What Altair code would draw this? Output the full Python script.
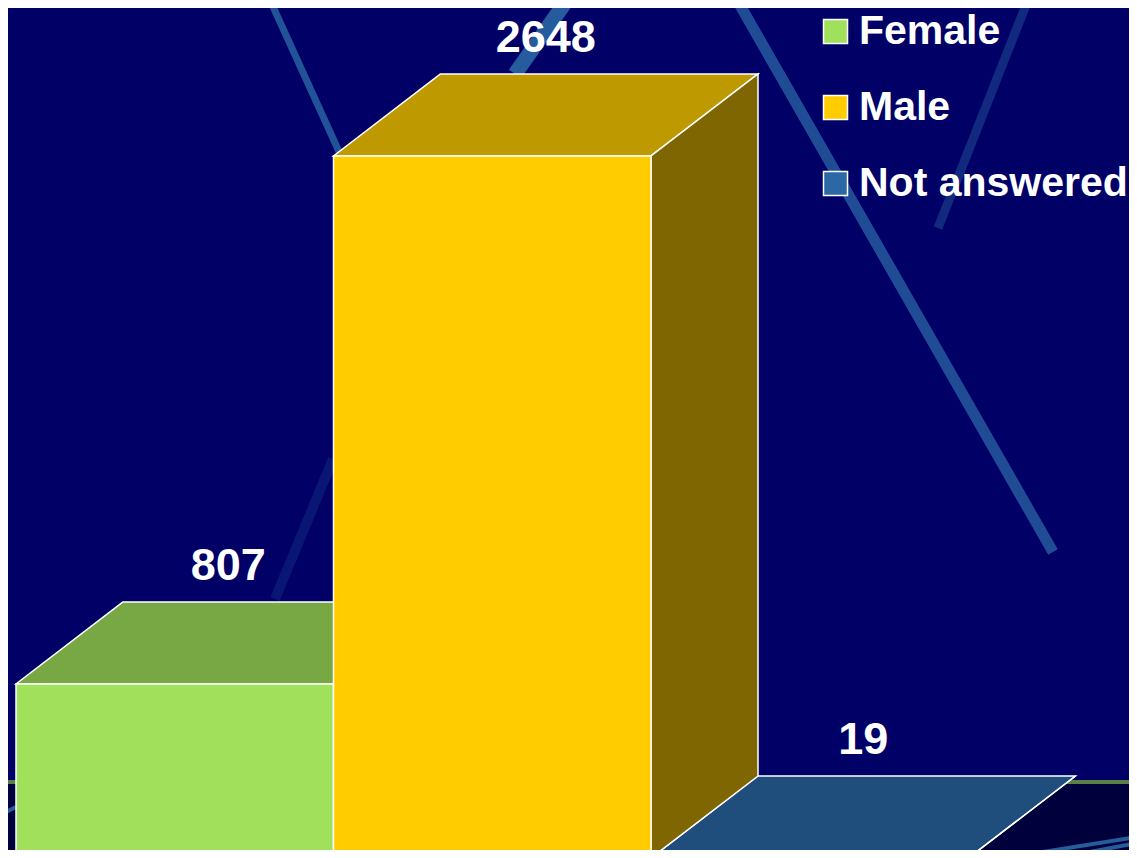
import altair as alt
import pandas as pd

# ---------------- data ----------------
categories = ["Female", "Male", "Not answered"]
counts = [807, 2648, 19]
front_colors = ["#A0E05A", "#FFCC00", "#2C68A6"]
top_colors = ["#78A843", "#BF9900", "#1F4E7D"]
side_colors = ["#5A8A32", "#806600", "#163A5E"]
axis_min = 200  # value axis floor of the 3-D chart

# ---------------- layout (page pixels) ----------------
W, H = 1121, 842            # chart size (page has an 8px margin all round)
OX, OY = 8, 8
PX_PER_BAR = 317.5
BAR0_PX = 16
PX_PER_VAL = 0.2868
FLOOR_PX = 858
DEPTH_X_PX, DEPTH_Y_PX = 107, 82

x_dom = [(OX - BAR0_PX) / PX_PER_BAR, (OX + W - BAR0_PX) / PX_PER_BAR]
y_dom = [axis_min + (FLOOR_PX - (OY + H)) / PX_PER_VAL,
         axis_min + (FLOOR_PX - OY) / PX_PER_VAL]
ddx = DEPTH_X_PX / PX_PER_BAR
ddy = DEPTH_Y_PX / PX_PER_VAL

xs = alt.Scale(domain=x_dom, nice=False, zero=False)
ys = alt.Scale(domain=y_dom, nice=False, zero=False)

# ---------------- geometry tables built from the data ----------------
front_rows, top_rows, side_rows, label_rows = [], [], [], []
for i, (cat, v) in enumerate(zip(categories, counts)):
    top = max(v, axis_min)
    front_rows.append(dict(cat=cat, x=i, x2=i + 1, y=axis_min, y2=top))
    for t in (0, 1):
        top_rows.append(dict(cat=cat, fill=top_colors[i], y=top + t * ddy,
                             x=i + t * ddx, x2=i + 1 + t * ddx))
        side_rows.append(dict(cat=cat, fill=side_colors[i], x=i + 1 + t * ddx,
                              y=axis_min + t * ddy, y2=top + t * ddy))
    label_rows.append(dict(cat=cat, x=i + 0.5 + ddx / 2, y=top + ddy, text=str(v)))

front_df = pd.DataFrame(front_rows)
top_df = pd.DataFrame(top_rows)
side_df = pd.DataFrame(side_rows)
label_df = pd.DataFrame(label_rows)

floor_line_val = axis_min + ddy - 6 / PX_PER_VAL
floor_df = pd.DataFrame([dict(x=x_dom[0], x2=x_dom[1], y=axis_min - 40, y2=floor_line_val)])

one = pd.DataFrame({"k": [0]})

# ---------------- background decoration ----------------
floor = alt.Chart(floor_df).mark_rect(color="#00003C", clip=True).encode(
    x=alt.X("x:Q", scale=xs, axis=None), x2="x2:Q",
    y=alt.Y("y:Q", scale=ys, axis=None), y2="y2:Q")
floor_line = alt.Chart(floor_df).mark_rule(color="#5B7F45", strokeWidth=4).encode(
    x=alt.X("x:Q", scale=xs, axis=None), x2="x2:Q",
    y=alt.Y("y2:Q", scale=ys, axis=None))

streak_specs = [
    # (x1, y1, x2, y2, width, opacity) in chart pixels
    (262, -8, 333, 148, 7, 0.8),
    (559, -8, 507, 66, 15, 0.9),
    (729, -8, 1045, 544, 11, 0.75),
    (1020, -8, 930, 220, 9, 0.4),
    (267, 591, 325, 451, 10, 0.22),
    (1129, 829, 997, 850, 4, 0.9),
    (1129, 835, 1050, 850, 4, 0.9),
    (-8, 807, 8, 799, 4, 0.9),
]
streaks = [
    alt.Chart(one).mark_rule(color="#2A66A4", strokeWidth=sw, opacity=op, strokeCap="butt").encode(
        x=alt.value(a), y=alt.value(b), x2=alt.value(c), y2=alt.value(d))
    for (a, b, c, d, sw, op) in streak_specs
]

# ---------------- 3-D bars ----------------
tops = alt.Chart(top_df).mark_area(orient="horizontal", stroke="white", strokeWidth=1.5,
                                   strokeJoin="miter").encode(
    y=alt.Y("y:Q", scale=ys, axis=None),
    x=alt.X("x:Q", scale=xs, axis=None), x2="x2:Q",
    fill=alt.Fill("fill:N", scale=None), detail="cat:N")

sides = alt.Chart(side_df).mark_area(orient="vertical", stroke="white", strokeWidth=1.5,
                                     strokeJoin="miter").encode(
    x=alt.X("x:Q", scale=xs, axis=None),
    y=alt.Y("y:Q", scale=ys, axis=None), y2="y2:Q",
    fill=alt.Fill("fill:N", scale=None), detail="cat:N")

fronts = alt.Chart(front_df).mark_rect(stroke="white", strokeWidth=1.5).encode(
    x=alt.X("x:Q", scale=xs, axis=None), x2="x2:Q",
    y=alt.Y("y:Q", scale=ys, axis=None), y2="y2:Q",
    fill=alt.Fill("cat:N", scale=alt.Scale(domain=categories, range=front_colors),
                  legend=alt.Legend(orient="none", legendX=807, legendY=3, title=None,
                                    symbolType="square", symbolSize=576,
                                    symbolStrokeColor="white", symbolStrokeWidth=1.5,
                                    symbolOpacity=1,
                                    labelFont="Liberation Sans", labelFontSize=41,
                                    labelFontWeight="bold", labelColor="white",
                                    labelLimit=400, labelOffset=3, rowPadding=34,
                                    padding=0)))

labels = alt.Chart(label_df).mark_text(font="Liberation Sans", fontWeight="bold",
                                       fontSize=45, color="white",
                                       baseline="alphabetic", dy=-22).encode(
    x=alt.X("x:Q", scale=xs, axis=None),
    y=alt.Y("y:Q", scale=ys, axis=None),
    text="text:N")

chart = alt.layer(floor, floor_line, *streaks, tops, sides, fronts, labels).properties(
    width=W, height=H, padding=0,
    autosize=alt.AutoSizeParams(type="none"),
).configure(background="#000066").configure_view(strokeWidth=0)

chart.save("out.html", embed_options={"renderer": "svg", "actions": False})
